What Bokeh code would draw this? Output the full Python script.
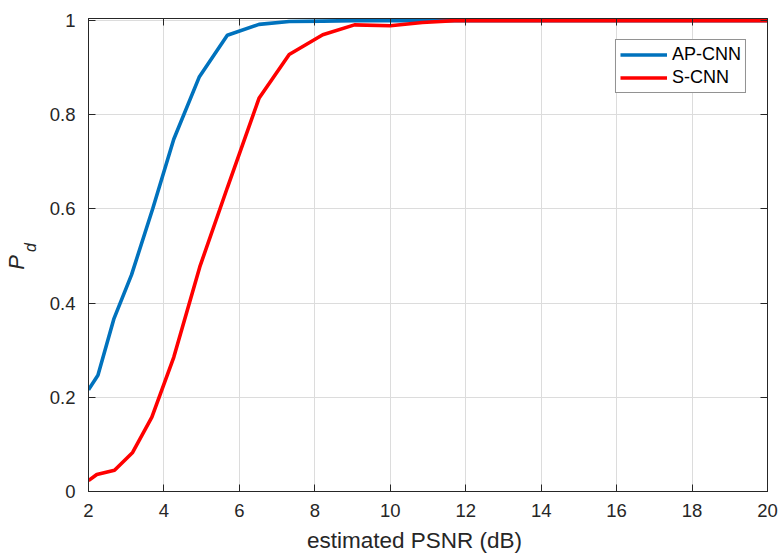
import math
from bokeh.plotting import figure
from bokeh.models import (LinearAxis, Label, Legend, LegendItem, FixedTicker,
                          CustomLabelingPolicy)
from bokeh.embed import file_html
from bokeh.resources import INLINE

# Detection probability vs. estimated PSNR for the two detectors
psnr_ap = [2.0, 2.25, 2.67, 3.14, 3.70, 4.26, 4.94, 5.68, 6.52, 7.32, 8.21, 9.05,
           10.0, 10.85, 11.7, 12.6, 13.5, 14.4, 15.3, 16.2, 17.1, 18.0, 18.9, 20.0]
pd_ap = [0.216, 0.247, 0.366, 0.460, 0.600, 0.748, 0.881, 0.969, 0.992, 0.998, 0.999, 1.0,
         1.0, 1.0, 1.0, 1.0, 1.0, 1.0, 1.0, 1.0, 1.0, 1.0, 1.0, 1.0]

psnr_s = [2.0, 2.22, 2.69, 3.17, 3.68, 4.26, 4.95, 5.68, 6.52, 7.32, 8.21, 9.05,
          10.0, 10.85, 11.7, 12.6, 13.5, 14.4, 15.3, 16.2, 17.1, 18.0, 18.9, 20.0]
pd_s = [0.023, 0.036, 0.045, 0.083, 0.158, 0.285, 0.477, 0.645, 0.835, 0.928, 0.970, 0.991,
        0.989, 0.996, 1.0, 1.0, 1.0, 1.0, 1.0, 1.0, 1.0, 1.0, 1.0, 1.0]

x_ticks = [2, 4, 6, 8, 10, 12, 14, 16, 18, 20]
y_ticks = [0, 0.2, 0.4, 0.6, 0.8, 1]
y_tick_labels = {0: "0", 0.2: "0.2", 0.4: "0.4", 0.6: "0.6", 0.8: "0.8", 1: "1"}

FONT = "Liberation Sans"
AXIS_COLOR = "#262626"

# a little headroom above 1 so the saturated curves are not cut by the frame
p = figure(width=782, height=557, x_range=(2, 20), y_range=(0, 1.0045),
           output_backend="svg", toolbar_location=None,
           min_border_left=88, min_border_right=15, min_border_top=18, min_border_bottom=66,
           background_fill_color="white", border_fill_color="white")

p.outline_line_color = AXIS_COLOR
p.outline_line_width = 1

# hides the tick labels on the mirrored (top / right) axes
no_labels = CustomLabelingPolicy(code="""
    for (let i = 0; i < indices.size; i++) indices.set(i, false)
    return indices
""")

def style_axis(ax, show_labels=True):
    ax.axis_line_color = AXIS_COLOR
    ax.axis_line_width = 1
    ax.major_tick_line_color = AXIS_COLOR
    ax.major_tick_in = 7
    ax.major_tick_out = 0
    ax.minor_tick_line_color = None
    ax.major_label_text_font = FONT
    ax.major_label_text_color = AXIS_COLOR
    if show_labels:
        ax.major_label_text_font_size = "18.5px"
    else:
        ax.major_label_text_font_size = "0px"
        ax.major_label_standoff = 0
        ax.major_label_policy = no_labels

xa = p.xaxis[0]
ya = p.yaxis[0]
xa.ticker = FixedTicker(ticks=x_ticks)
ya.ticker = FixedTicker(ticks=y_ticks)
ya.major_label_overrides = y_tick_labels
style_axis(xa)
style_axis(ya)
xa.major_label_standoff = 12
ya.major_label_standoff = 13

top = LinearAxis(ticker=FixedTicker(ticks=x_ticks))
right = LinearAxis(ticker=FixedTicker(ticks=y_ticks))
style_axis(top, show_labels=False)
style_axis(right, show_labels=False)
p.add_layout(top, "above")
p.add_layout(right, "right")

p.xgrid.ticker = FixedTicker(ticks=x_ticks)
p.ygrid.ticker = FixedTicker(ticks=y_ticks)
p.grid.grid_line_color = "#dcdcdc"
p.grid.grid_line_width = 1

r_ap = p.line(psnr_ap, pd_ap, line_color="#0072BD", line_width=3.6)
r_s = p.line(psnr_s, pd_s, line_color="#FF0000", line_width=3.6)

legend = Legend(items=[LegendItem(label="AP-CNN", renderers=[r_ap]),
                       LegendItem(label="S-CNN", renderers=[r_s])],
                location="top_right")
legend.margin = 21
legend.padding = 4
legend.spacing = 2
legend.glyph_width = 47
legend.glyph_height = 21
legend.label_standoff = 5
legend.label_text_font = FONT
legend.label_text_font_size = "18px"
legend.label_text_color = "black"
legend.border_line_color = AXIS_COLOR
legend.border_line_width = 1
legend.background_fill_color = "white"
legend.background_fill_alpha = 1
p.add_layout(legend)

# x title, in canvas pixel coordinates (top-left origin)
p.add_layout(Label(x=414, y=540, x_units="canvas", y_units="canvas",
                   text="estimated PSNR (dB)", text_font=FONT, text_font_size="22.5px",
                   text_color=AXIS_COLOR, text_align="center",
                   text_baseline="middle"), "below")
# y title P_d: "P" with a lowered, smaller "d", both reading bottom-to-top
p.add_layout(Label(x=16, y=262, x_units="canvas", y_units="canvas", text="P",
                   angle=math.pi / 2, text_font=FONT, text_font_size="22px",
                   text_font_style="italic", text_color=AXIS_COLOR,
                   text_align="center", text_baseline="middle"), "left")
p.add_layout(Label(x=30, y=247, x_units="canvas", y_units="canvas", text="d",
                   angle=math.pi / 2, text_font=FONT, text_font_size="16px",
                   text_font_style="italic", text_color=AXIS_COLOR,
                   text_align="center", text_baseline="middle"), "left")

open("out.html", "w").write(file_html(p, INLINE))
